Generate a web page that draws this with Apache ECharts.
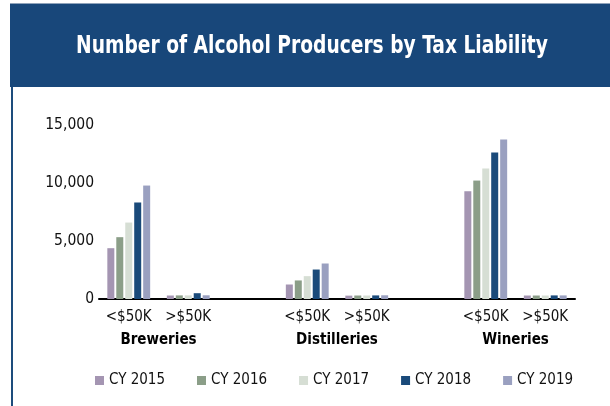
<!DOCTYPE html>
<html>
<head>
<meta charset="utf-8">
<script src="https://cdn.jsdelivr.net/npm/echarts@6/dist/echarts.min.js"></script>
<style>
  html, body { margin: 0; padding: 0; background: #fff; }
  #chart { width: 610px; height: 406px; }
</style>
</head>
<body>
<div id="chart"></div>
<script>
// tax-liability buckets, with an empty slot between producer groups
const categories = ['<$50K', '>$50K', '', '<$50K', '>$50K', '', '<$50K', '>$50K']
const groupLabels = ['', 'Breweries', '', '', 'Distilleries', '', '', 'Wineries', '']
const years = ['CY 2015', 'CY 2016', 'CY 2017', 'CY 2018', 'CY 2019']
const colors = ['#a495b2', '#8b9e88', '#d6ded4', '#1a4a7a', '#9aa0c0']
const yTicks = [0, 5000, 10000, 15000]

// values per year, in the same order as categories
const cy2015 = [4380, 300, null, 1250, 290, null, 9290, 300]
const cy2016 = [5330, 310, null, 1600, 300, null, 10210, 300]
const cy2017 = [6590, 310, null, 1970, 300, null, 11250, 300]
const cy2018 = [8320, 500, null, 2540, 310, null, 12630, 310]
const cy2019 = [9780, 320, null, 3060, 320, null, 13750, 310]
const values = [cy2015, cy2016, cy2017, cy2018, cy2019]

const narrow = '"Liberation Sans Narrow", "Arial Narrow", "DejaVu Sans Condensed", sans-serif'

const chart = echarts.init(document.getElementById('chart'), null, { renderer: 'canvas' })

const option = {
  animation: false,
  textStyle: { fontFamily: narrow },
  graphic: [
    { type: 'rect', shape: { x: 10, y: 4, width: 600, height: 83 }, style: { fill: '#18477a' }, silent: true, z: -10 },
    { type: 'line', shape: { x1: 10, y1: 3.5, x2: 610, y2: 3.5 }, style: { stroke: '#8fa3bb', lineWidth: 1 }, silent: true },
    { type: 'line', shape: { x1: 12, y1: 87, x2: 12, y2: 406 }, style: { stroke: '#1d4c7c', lineWidth: 2 }, silent: true },
    {
      // title squeezed to match the condensed face of the original
      type: 'text',
      x: 312,
      y: 46,
      scaleX: 0.83,
      silent: true,
      style: {
        text: 'Number of Alcohol Producers by Tax Liability',
        fill: '#ffffff',
        font: 'bold 25px ' + narrow,
        align: 'center',
        verticalAlign: 'middle'
      }
    }
  ],
  legend: {
    data: years,
    left: 90,
    top: 368,
    width: 530,
    icon: 'rect',
    itemWidth: 9,
    itemHeight: 9,
    itemGap: 32,
    textStyle: { fontSize: 15, color: '#111', fontFamily: narrow }
  },
  grid: { left: 99, right: 35, top: 125, bottom: 107, containLabel: false },
  xAxis: [
    {
      type: 'category',
      data: categories,
      axisLine: { show: true, lineStyle: { color: '#000', width: 2 } },
      axisTick: { show: false },
      axisLabel: { interval: 0, margin: 11, fontSize: 15, color: '#111', fontFamily: narrow }
    },
    {
      type: 'category',
      data: groupLabels,
      position: 'bottom',
      boundaryGap: false,
      axisLine: { show: false },
      axisTick: { show: false },
      axisLabel: { interval: 0, margin: 34, fontSize: 15, fontWeight: 'bold', color: '#000', fontFamily: narrow }
    }
  ],
  yAxis: {
    type: 'value',
    min: yTicks[0],
    max: yTicks[yTicks.length - 1],
    interval: yTicks[1] - yTicks[0],
    axisLine: { show: false },
    axisTick: { show: false },
    splitLine: { show: false },
    axisLabel: {
      margin: 5,
      fontSize: 15.5,
      color: '#111',
      fontFamily: narrow,
      formatter: v => v.toLocaleString('en-US')
    }
  },
  series: years.map((name, i) => ({
    name: name,
    type: 'bar',
    data: values[i],
    barWidth: 7,
    barGap: '28%',
    itemStyle: { color: colors[i] }
  }))
}

chart.setOption(option)
window.addEventListener('resize', chart.resize)
</script>
</body>
</html>
